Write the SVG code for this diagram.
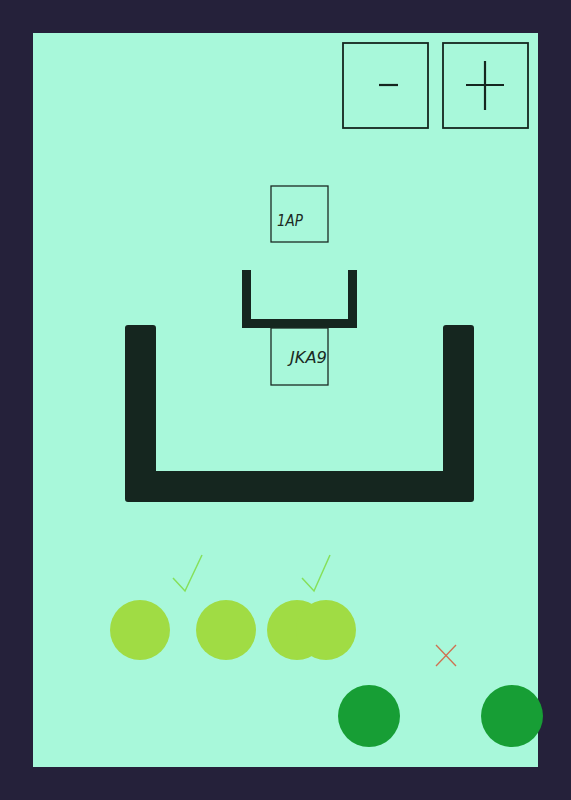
<svg xmlns="http://www.w3.org/2000/svg" width="571" height="800" viewBox="0 0 571 800">
<style>
.box{fill:none;stroke:#1b2a24;stroke-width:1.3}
.btn{fill:none;stroke:#15261f;stroke-width:1.8}
.wall{fill:#15261f}
.ball{fill:#a0dc44}
.goal{fill:#179e35}
.tick{fill:none;stroke:#86e05a;stroke-width:1.5}
.hand{font-family:"DejaVu Sans",sans-serif;font-style:italic;font-size:15px;fill:#1b2a24}
</style>
<rect x="0" y="0" width="571" height="800" fill="#25213a"/>
<rect x="33" y="33" width="505" height="734" fill="#a8f8da"/>
<g id="btn-minus">
<rect class="btn" x="343" y="43" width="85" height="85"/>
<line x1="379" y1="85" x2="398" y2="85" stroke="#15261f" stroke-width="2.2"/>
</g>
<g id="btn-plus">
<rect class="btn" x="443" y="43" width="85" height="85"/>
<line x1="466" y1="85" x2="504" y2="85" stroke="#15261f" stroke-width="2.2"/>
<line x1="485" y1="61" x2="485" y2="110" stroke="#15261f" stroke-width="2.2"/>
</g>
<g id="card-top">
<rect class="box" x="271" y="186" width="57" height="56"/>
<text class="hand" x="277" y="226" textLength="26" lengthAdjust="spacingAndGlyphs">1AP</text>
</g>
<g id="small-cup">
<path class="wall" d="M242,270h9v49h97v-49h9v58h-115z"/>
</g>
<g id="card-bottom">
<rect class="box" x="271" y="328" width="57" height="57"/>
<text class="hand" x="290" y="363" textLength="37" lengthAdjust="spacingAndGlyphs">JKA9</text>
</g>
<g id="big-cup">
<path class="wall" d="M128,325h25a3,3 0 0 1 3,3v143h287v-143a3,3 0 0 1 3,-3h25a3,3 0 0 1 3,3v171a3,3 0 0 1 -3,3h-343a3,3 0 0 1 -3,-3v-171a3,3 0 0 1 3,-3z"/>
</g>
<g id="balls">
<circle class="ball" cx="140" cy="630" r="30"/>
<circle class="ball" cx="226" cy="630" r="30"/>
<circle class="ball" cx="297" cy="630" r="30"/>
<circle class="ball" cx="326" cy="630" r="30"/>
</g>
<g id="marks">
<polyline class="tick" points="173,578 185,591 202,555"/>
<polyline class="tick" points="302,578 314,591 330,555"/>
<line x1="436" y1="645" x2="456" y2="666" stroke="#d07050" stroke-width="1.3"/>
<line x1="456" y1="645" x2="436" y2="666" stroke="#d07050" stroke-width="1.3"/>
</g>
<g id="goals">
<circle class="goal" cx="369" cy="716" r="31"/>
<circle class="goal" cx="512" cy="716" r="31"/>
</g>
</svg>
